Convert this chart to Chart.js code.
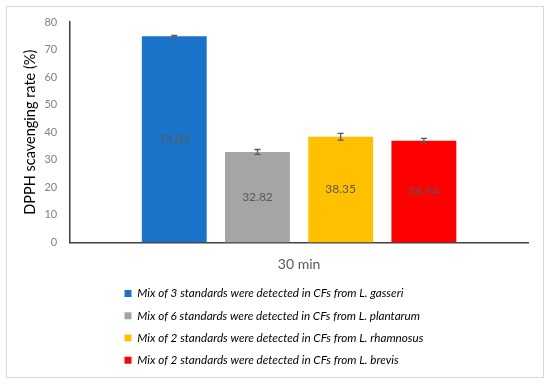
<!DOCTYPE html>
<html>
<head>
<meta charset="utf-8">
<script src="https://cdn.jsdelivr.net/npm/chart.js@4"></script>
<style>
	body { margin: 0; background: #fff; }
	#wrap { position: relative; width: 550px; height: 384px; }
	#frame { position: absolute; left: 6px; top: 6px; width: 536px; height: 370px; border: 1px solid #d9d9d9; pointer-events: none; }
	canvas { position: absolute; left: 0; top: 0; }
</style>
</head>
<body>
<div id="wrap">
	<canvas id="dpphChart" width="550" height="384"></canvas>
	<div id="frame"></div>
</div>
<script>
var categories = ['30 min'];
var seriesLabels = [
	'Mix of 3 standards were detected in CFs from L. gasseri',
	'Mix of 6 standards were detected in CFs from L. plantarum',
	'Mix of 2 standards were detected in CFs from L. rhamnosus',
	'Mix of 2 standards were detected in CFs from L. brevis'
];
var seriesValues = [74.82, 32.82, 38.35, 36.94];
var seriesErrors = [0.3, 0.9, 1.2, 0.8];
var seriesColors = ['#1a73c8', '#a5a5a5', '#ffc000', '#ff0000'];
var yMin = 0;
var yMax = 80;
var yStep = 10;

/********************************************************
 * 오차막대 + 값 라벨
 ********************************************************/
var errorBarPlugin = {
	id: 'errorBars',
	afterDatasetsDraw: function(chart) {
		var ctx = chart.ctx;
		var yScale = chart.scales.y;
		ctx.save();
		chart.data.datasets.forEach(function(ds, i) {
			var bar = chart.getDatasetMeta(i).data[0];
			var v = ds.data[0];
			var yTop = yScale.getPixelForValue(v + seriesErrors[i]);
			var yBot = yScale.getPixelForValue(v - seriesErrors[i]);
			ctx.strokeStyle = '#595959';
			ctx.lineWidth = 1.3;
			ctx.beginPath();
			ctx.moveTo(bar.x, yTop); ctx.lineTo(bar.x, yBot);
			ctx.moveTo(bar.x - 3, yTop); ctx.lineTo(bar.x + 3, yTop);
			ctx.moveTo(bar.x - 3, yBot); ctx.lineTo(bar.x + 3, yBot);
			ctx.stroke();

			ctx.fillStyle = '#595959';
			ctx.font = '12px Lato';
			ctx.textAlign = 'center';
			ctx.textBaseline = 'middle';
			ctx.fillText(v.toFixed(2), bar.x, (bar.y + bar.base) / 2);
		});
		ctx.restore();
	}
};

// 범례 위치 보정
var legendShiftPlugin = {
	id: 'legendShift',
	afterLayout: function(chart) {
		chart.legend.left = 114;
		chart.legend.top -= 2;
	}
};

function getChartData() {
	var _datasets = new Array();
	seriesValues.forEach(function(val, i) {
		_datasets.push({
			label: seriesLabels[i],
			data: [val],
			backgroundColor: seriesColors[i],
			borderWidth: 0,
			categoryPercentage: 0.727,
			barPercentage: 0.78
		});
	});
	return { labels: categories, datasets: _datasets };
}

var ctx = document.getElementById('dpphChart');
var _chart = new Chart(ctx, {
	type: 'bar',
	data: getChartData(),
	plugins: [errorBarPlugin, legendShiftPlugin],
	options: {
		responsive: false,
		animation: false,
		layout: {
			padding: { left: 22, right: 22, top: 22, bottom: 6 }
		},
		plugins: {
			legend: {
				position: 'bottom',
				align: 'start',
				labels: {
					boxWidth: 7,
					boxHeight: 7,
					padding: 10.5,
					color: '#000',
					font: { family: 'Lato', size: 11.7, style: 'italic' }
				}
			},
			tooltip: { enabled: false }
		},
		scales: {
			x: {
				grid: { display: false },
				border: { display: true, color: '#404040', width: 1.5 },
				ticks: {
					color: '#595959',
					padding: 6,
					font: { family: 'Lato', size: 14 }
				}
			},
			y: {
				min: yMin,
				max: yMax,
				grid: { display: false },
				border: { display: true, color: '#404040', width: 1.5 },
				ticks: {
					stepSize: yStep,
					color: '#808080',
					padding: 5,
					font: { family: 'Lato', size: 11 }
				},
				title: {
					display: true,
					text: 'DPPH scavenging rate (%)',
					color: '#000',
					padding: 0,
					font: { family: 'Lato', size: 14.5 }
				}
			}
		}
	}
});
</script>
</body>
</html>
